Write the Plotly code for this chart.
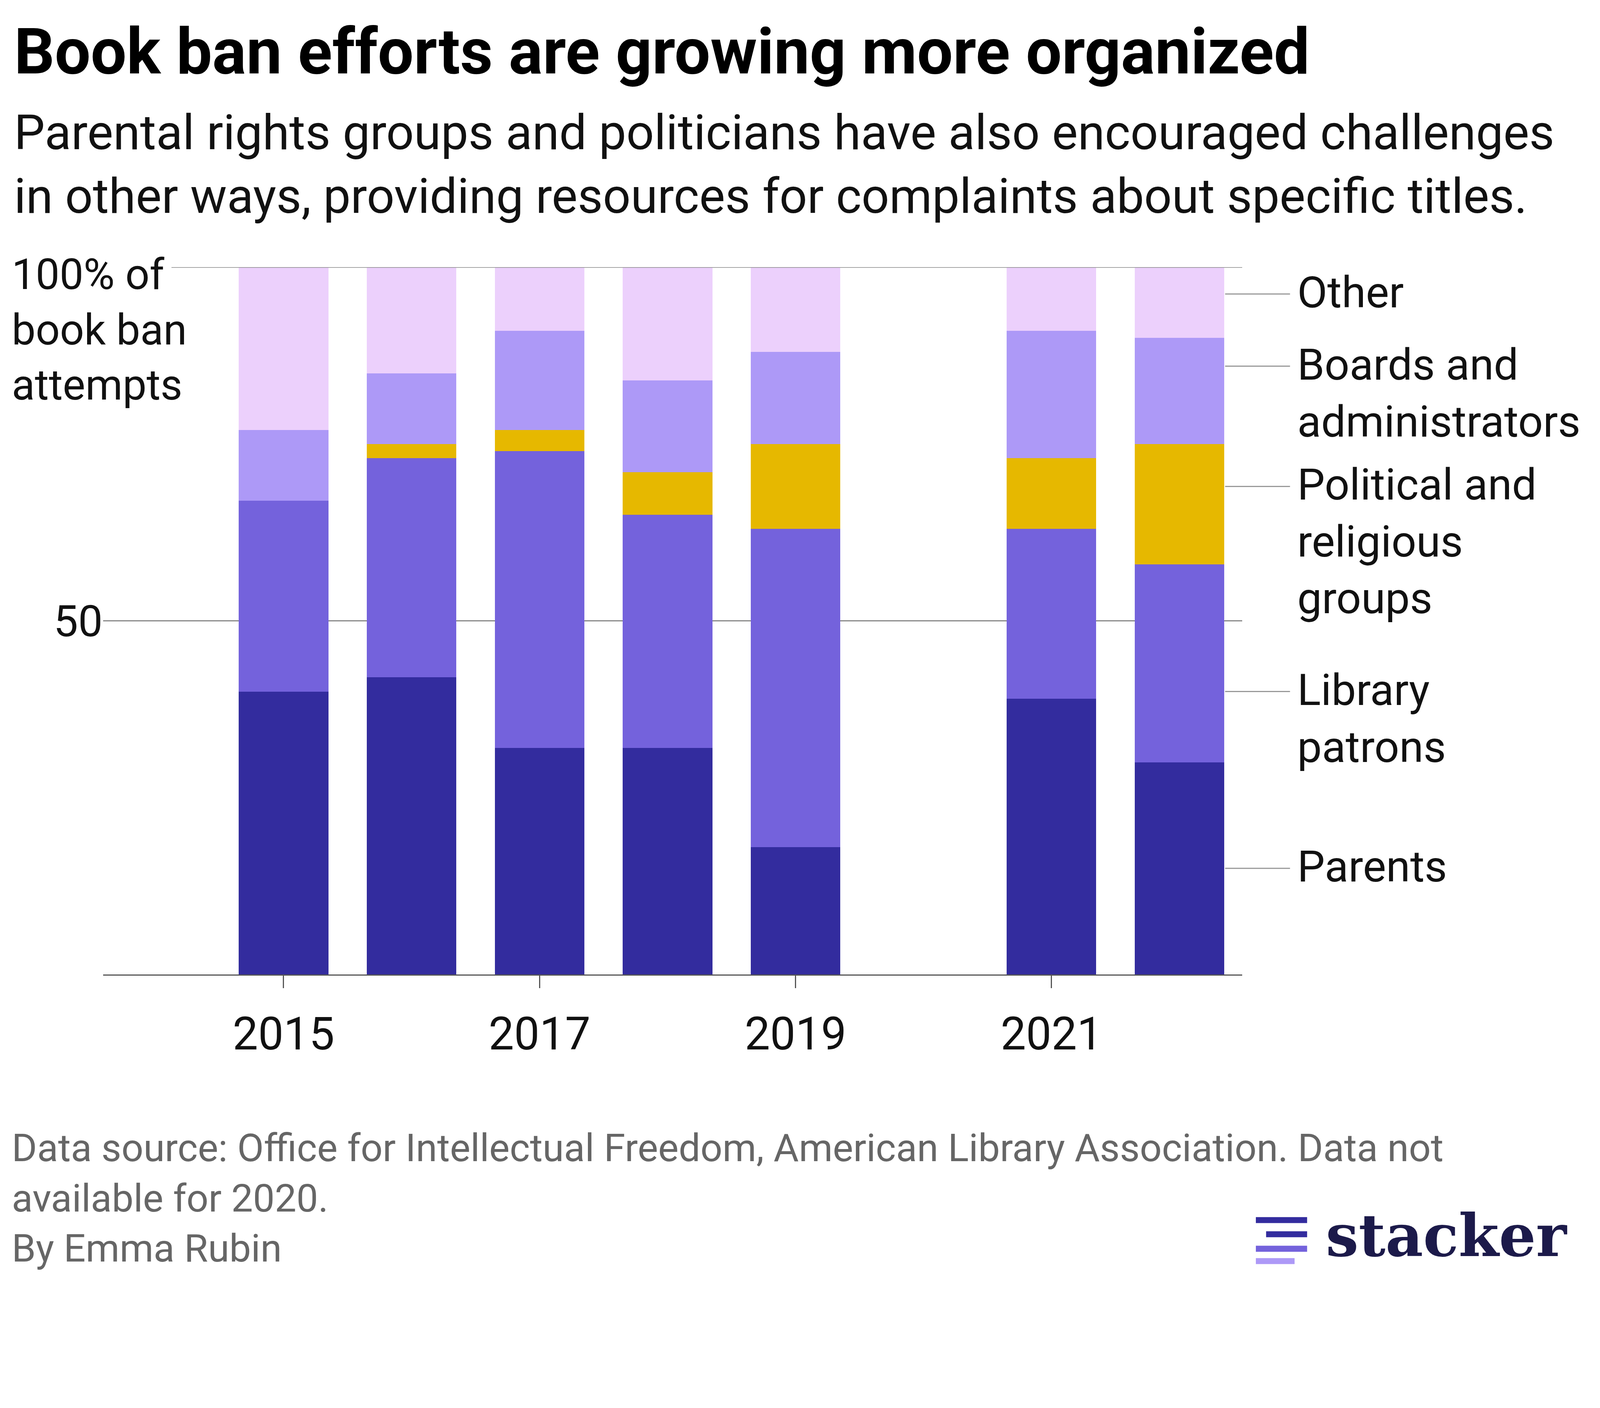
import plotly.graph_objects as go

years = [2015, 2016, 2017, 2018, 2019, 2021, 2022]
parents = [40, 42, 32, 32, 18, 39, 30]
library_patrons = [27, 31, 42, 33, 45, 24, 28]
political_religious = [0, 2, 3, 6, 12, 10, 17]
boards_admins = [10, 10, 14, 13, 13, 18, 15]
other = [23, 15, 9, 16, 12, 9, 10]

series = [
    ("Parents", parents, "#332c9e"),
    ("Library patrons", library_patrons, "#7462dc"),
    ("Political and religious groups", political_religious, "#e6b800"),
    ("Boards and administrators", boards_admins, "#ad99f7"),
    ("Other", other, "#ecd0fc"),
]

# right-hand labels: (text, y of leader line)
labels = [
    ("Other", 96.2),
    ("Boards and<br>administrators", 86),
    ("Political and<br>religious<br>groups", 69),
    ("Library<br>patrons", 40),
    ("Parents", 15),
]

# page renders slightly zoomed, so scale every pixel size down
S = 0.905
def px(v):
    return round(v * S)

W, H = 4500, 3605
L, R, T, B = 283, 995, 747, 858
FONT = "Roboto"

fig = go.Figure()
for name, vals, col in series:
    fig.add_trace(go.Bar(x=years, y=vals, name=name, marker_color=col,
                         marker_line_width=0, width=0.7))

shapes = [
    dict(type="line", xref="paper", yref="y", x0=0.06, x1=1, y0=100, y1=100,
         line=dict(color="#888", width=px(3))),
]
annos = []
for text, yv in labels:
    shapes.append(dict(type="line", xref="paper", yref="y", x0=0.985, x1=1.042,
                       y0=yv, y1=yv, line=dict(color="#999", width=px(3))))
    annos.append(dict(text=text, xref="paper", yref="y", x=1.0475, y=yv,
                      xanchor="left", yanchor="top", yshift=px(80), align="left",
                      showarrow=False, font=dict(size=px(124), color="#111", family=FONT)))

annos += [
    dict(text="100% of<br>book ban<br>attempts", xref="paper", yref="paper",
         x=-0.081, y=1.026, xanchor="left", yanchor="top", align="left",
         showarrow=False, font=dict(size=px(120), color="#111", family=FONT)),
    dict(text="<b>Book ban efforts are growing more organized</b>", xref="paper",
         yref="paper", x=-0.079, y=1.3045, xanchor="left", yanchor="middle",
         showarrow=False, font=dict(size=px(180), color="#000", family=FONT)),
    dict(text="Parental rights groups and politicians have also encouraged challenges<br>"
              "in other ways, providing resources for complaints about specific titles.",
         xref="paper", yref="paper", x=-0.079, y=1.232, xanchor="left", yanchor="top",
         align="left", showarrow=False, font=dict(size=px(138), color="#111", family=FONT)),
    dict(text="Data source: Office for Intellectual Freedom, American Library Association. Data not<br>"
              "available for 2020.<br>By Emma Rubin",
         xref="paper", yref="paper", x=-0.081, y=-0.212, xanchor="left", yanchor="top",
         align="left", showarrow=False, font=dict(size=px(109), color="#666", family=FONT)),
    dict(text="<b>stacker</b>", xref="paper", yref="paper", x=1.2865, y=-0.369,
         xanchor="right", yanchor="middle", showarrow=False,
         font=dict(size=px(165), color="#1c1a4a", family="DejaVu Serif")),
]

# stacker logo bars: (x0, x1, y_top, colour)
logo = [(1.012, 1.057, -0.343, "#332c9e"), (1.021, 1.057, -0.363, "#332c9e"),
        (1.012, 1.057, -0.3835, "#7462dc"), (1.012, 1.046, -0.401, "#ad99f7")]
for x0, x1, yt, col in logo:
    shapes.append(dict(type="rect", xref="paper", yref="paper", x0=x0, x1=x1,
                       y0=yt - 0.0085, y1=yt, fillcolor=col, line_width=0))

fig.update_layout(
    width=px(W), height=px(H), barmode="stack", showlegend=False,
    paper_bgcolor="white", plot_bgcolor="white",
    margin=dict(l=px(L), r=px(R), t=px(T), b=px(B)),
    font=dict(family=FONT, size=px(124), color="#111"),
    xaxis=dict(range=[2013.59, 2022.49], tickvals=[2015, 2017, 2019, 2021],
               ticks="outside", ticklen=px(35), tickwidth=px(3), tickcolor="#555",
               showline=True, linecolor="#555", linewidth=px(3), showgrid=False,
               tickfont=dict(size=px(128)), ticklabelstandoff=px(20)),
    yaxis=dict(range=[0, 100], tickvals=[50], ticktext=["50"], showgrid=True,
               gridcolor="#888", gridwidth=px(3), zeroline=False, ticks="",
               tickfont=dict(size=px(124))),
    shapes=shapes, annotations=annos,
)
fig.write_html("out.html")
